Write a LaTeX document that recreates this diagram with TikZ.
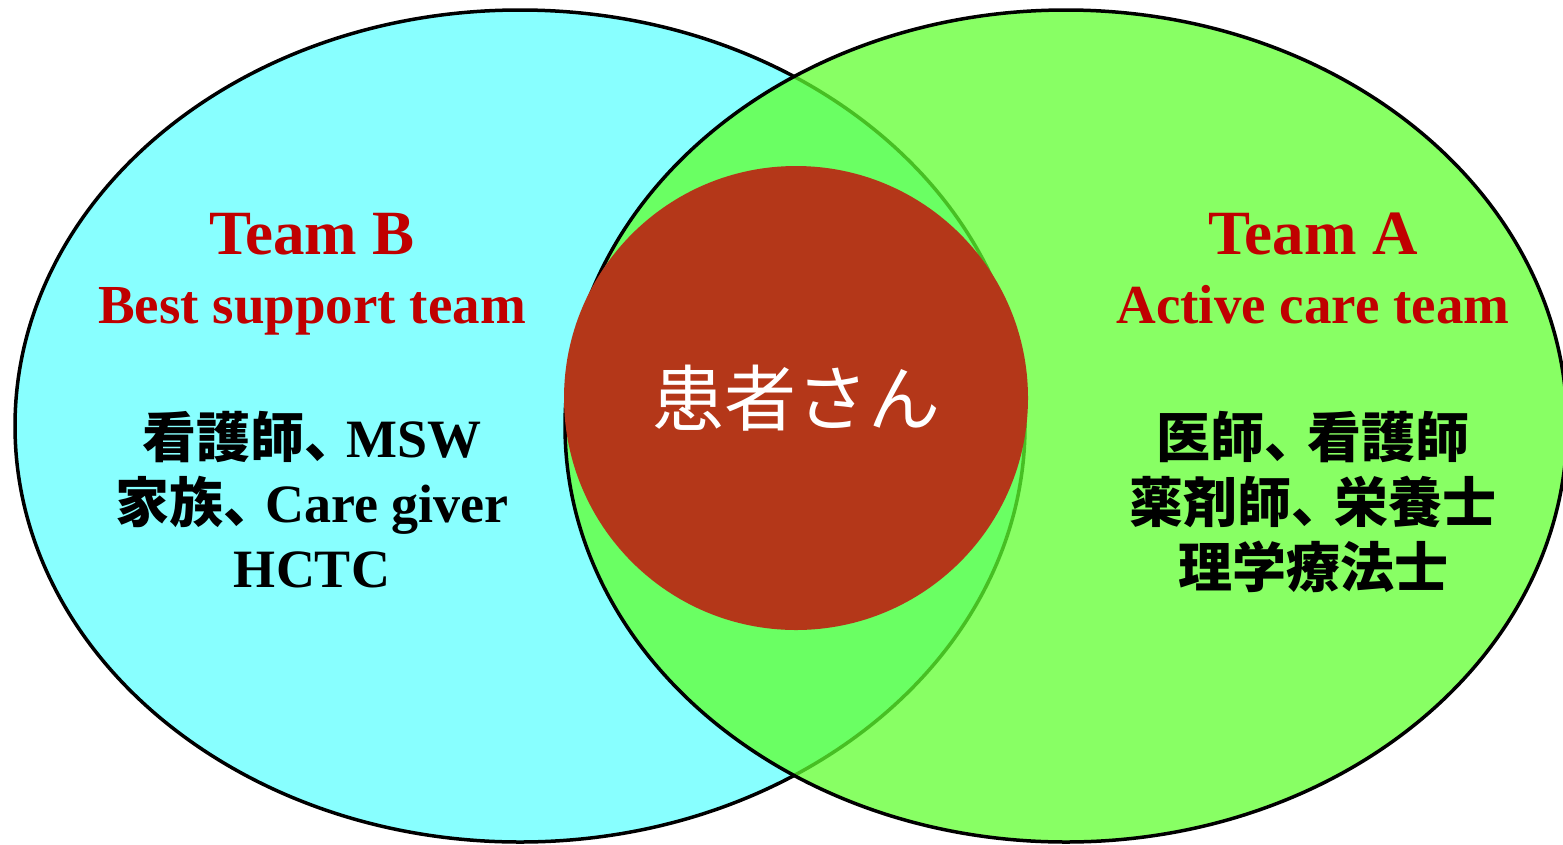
\documentclass[tikz,border=0pt]{standalone}
\usepackage{fontspec}
\setmainfont{Liberation Serif}
\newfontfamily\jpfont{Noto Sans CJK JP}
\newcommand{\jpcomma}{、\kern-0.22em}
\usetikzlibrary{shapes.geometric}

\definecolor{teamBcyan}{RGB}{136,255,255}
\definecolor{teamAgreen}{RGB}{96,255,48}
\definecolor{patientred}{RGB}{180,55,25}
\definecolor{titlered}{RGB}{192,0,0}

\begin{document}
\begin{tikzpicture}
[x=1pt,y=-1pt,every node/.style={inner sep=0pt},
 team/.style={ellipse,draw=black,line width=3.5pt},
 title/.style={text=titlered,font=\bfseries\fontsize{63}{70}\selectfont,anchor=base},
 subtitle/.style={text=titlered,font=\bfseries\fontsize{55}{60}\selectfont,anchor=base},
 staff/.style={font=\bfseries\fontsize{54}{60}\selectfont,anchor=base}]

  \useasboundingbox (0,0) rectangle (1563,844);

  \node (teamB) at (520,426) [team,fill=teamBcyan,minimum width=1010pt,minimum height=832pt] {};
  \node (teamA) at (1066,426) [team,fill=teamAgreen,fill opacity=0.75,minimum width=1002pt,minimum height=832pt] {};
  \node (patient) at (796,398) [circle,fill=patientred,minimum size=464pt,text=white,font=\jpfont\fontsize{72}{80}\selectfont] {患者さん};

  \node (titleB) at (312,254) [title] {Team B};
  \node (subB) at (312,323) [subtitle] {Best support team};
  \node (titleA) at (1313,254) [title] {Team A};
  \node (subA) at (1313,323) [subtitle] {Active care team};

  \foreach \txt [count=\i] in {{{\jpfont 看護師\jpcomma}MSW},{{\jpfont 家族\jpcomma}Care giver},{HCTC}}
    \node (staffB\i) at (312,{392+65*\i}) [staff] {\txt};
  \foreach \txt [count=\i] in {医師\jpcomma 看護師,薬剤師\jpcomma 栄養士,理学療法士}
    \node (staffA\i) at (1313,{392+65*\i}) [staff] {\jpfont\txt};

\end{tikzpicture}
\end{document}
